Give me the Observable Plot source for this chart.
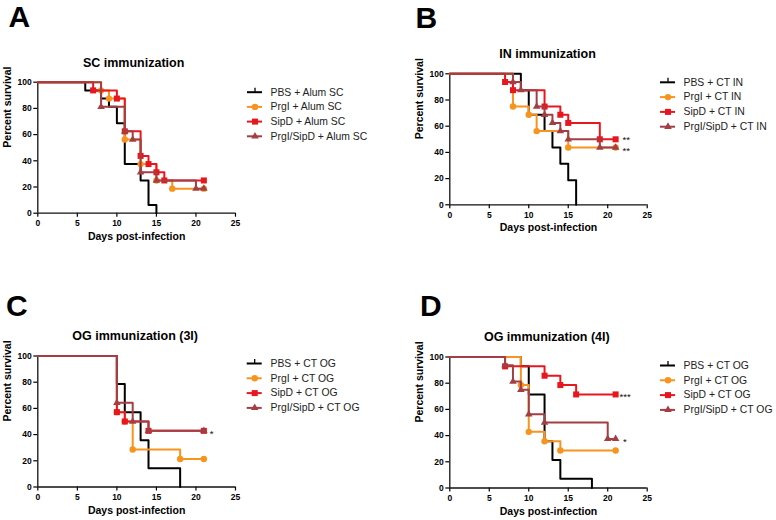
<!DOCTYPE html>
<html><head><meta charset="utf-8">
<script src="https://cdn.jsdelivr.net/npm/d3@7"></script>
<script src="https://cdn.jsdelivr.net/npm/@observablehq/plot@0.6"></script>
<style>
body{margin:0;background:#fff;}
#root{position:relative;width:776px;height:520px;overflow:hidden;background:#fff;}
.panel{position:absolute;}
</style></head><body><div id="root"></div>
<script>
// ---- shared series styling ----
const groupColors = ["#000000", "#F7941D", "#E8161E", "#A33F44"];
const groupSymbols = [null, "circle", "square", "triangle"];
const groupRadius = [0, 3.2, 3.4, 2.8];
const yTicks = [0, 20, 40, 60, 80, 100];
const xTicks = [0, 5, 10, 15, 20, 25];

// ---- Panel A: SC immunization  [day, percent survival] ----
const A_PBS  = [[0,100],[6,93.75],[8,87.5],[9,81.25],[10,68.75],[11,37.5],[13,25],[14,6.25],[15,0]];
const A_PrgI = [[0,100],[8,93.75],[9,87.5],[11,56.25],[13,37.5],[15,25],[17,18.75],[21,18.75]];
const A_SipD = [[0,100],[7,93.75],[10,87.5],[11,62.5],[13,43.75],[14,37.5],[15,31.25],[16,25],[21,25]];
const A_Both = [[0,100],[8,81.25],[11,62.5],[12,56.25],[13,31.25],[15,25],[20,18.75],[21,18.75]];
const A_labels = ["PBS + Alum SC", "PrgI + Alum SC", "SipD + Alum SC", "PrgI/SipD + Alum SC"];

// ---- Panel B: IN immunization ----
const B_PBS  = [[0,100],[9,87.5],[10,68.75],[12,56.25],[13,43.75],[14,31.25],[15,18.75],[16,0]];
const B_PrgI = [[0,100],[8,75],[10,68.75],[11,56.25],[15,43.75],[21,43.75]];
const B_SipD = [[0,100],[7,93.75],[8,87.5],[12,75],[14,68.75],[15,62.5],[19,50],[21,50]];
const B_Both = [[0,100],[8,93.75],[9,87.5],[11,75],[12,68.75],[13,62.5],[14,56.25],[15,50],[19,43.75],[21,43.75]];
const B_labels = ["PBS + CT IN", "PrgI + CT IN", "SipD + CT IN", "PrgI/SipD + CT IN"];

// ---- Panel C: OG immunization (3I) ----
const C_PBS  = [[0,100],[10,78.57],[11,57.14],[13,35.71],[14,14.29],[18,0]];
const C_PrgI = [[0,100],[10,57.14],[11,50],[12,28.57],[18,21.43],[21,21.43]];
const C_SipD = [[0,100],[10,57.14],[11,50],[14,42.86],[21,42.86]];
const C_Both = [[0,100],[10,64.29],[12,50],[14,42.86],[21,42.86]];
const C_labels = ["PBS + CT OG", "PrgI + CT OG", "SipD + CT OG", "PrgI/SipD + CT OG"];

// ---- Panel D: OG immunization (4I) ----
const D_PBS  = [[0,100],[9,92.86],[10,71.43],[12,35.71],[13,21.43],[14,7.14],[18,0]];
const D_PrgI = [[0,100],[9,78.57],[10,42.86],[12,35.71],[14,28.57],[21,28.57]];
const D_SipD = [[0,100],[7,92.86],[12,85.71],[14,78.57],[16,71.43],[21,71.43]];
const D_Both = [[0,100],[7,93.75],[8,81.25],[9,75],[10,56.25],[12,50],[20,37.5],[21,37.5]];
const D_labels = ["PBS + CT OG", "PrgI + CT OG", "SipD + CT OG", "PrgI/SipD + CT OG"];

// significance annotations [day, percent, label]
const B_stars = [[21,50,"**"],[21,43.75,"**"]];
const C_stars = [[21,42.86,"*"]];
const D_stars = [[21,71.43,"***"],[21,37.5,"*"]];

const FONT = "'Liberation Sans', Arial, Helvetica, sans-serif";

function panel(cfg) {
  const {series, labels, title, letter, stars, m, W, H, lay} = cfg;
  const fw = W - m.left - m.right, fh = H - m.top - m.bottom;
  const yFromPx = p => 100 - p * 100 / fh;       // px below frame top -> percent
  const xFromPx = p => 25 + p * 25 / fw;         // px right of frame -> day
  const marks = [];
  marks.push(Plot.axisY({ticks: yTicks, tickSize: 4, tickPadding: 2, label: null, fontWeight: "bold", fontSize: 8.5, strokeWidth: 1.2}));
  marks.push(Plot.axisX({ticks: xTicks, tickSize: 4, tickPadding: 3, label: null, fontWeight: "bold", fontSize: 8.5, strokeWidth: 1.2}));
  marks.push(Plot.ruleX([0], {y1: 0, y2: 100, stroke: "#111", strokeWidth: 1.3}));
  marks.push(Plot.ruleY([0], {x1: 0, x2: 25, stroke: "#111", strokeWidth: 1.3}));
  series.forEach((s, i) => {
    const data = s.map(([day, pct]) => ({day, pct}));
    marks.push(Plot.line(data, {x: "day", y: "pct", curve: "step-after", stroke: groupColors[i], strokeWidth: 2}));
    if (groupSymbols[i]) {
      marks.push(Plot.dot(data.slice(1), {x: "day", y: "pct", symbol: groupSymbols[i], r: groupRadius[i], fill: groupColors[i], stroke: "none"}));
    }
  });
  (stars || []).forEach(([day, pct, t], k) => {
    const sdy = (cfg.starDy || [])[k] ?? 3;
    const sdx = (cfg.starDx || [])[k] ?? 6;
    marks.push(Plot.text([t], {x: () => day, y: () => pct, text: d => d, textAnchor: "start", lineAnchor: "middle", dx: sdx, dy: sdy, fontSize: 9.5, fontWeight: "normal", fill: "#111"}));
  });
  // legend
  labels.forEach((lab, i) => {
    const yv = yFromPx(lay.top + i * lay.step);
    const x1 = xFromPx(lay.x1), x2 = xFromPx(lay.x2), xt = xFromPx(lay.xt);
    const xm = (x1 + x2) / 2;
    marks.push(Plot.ruleY([yv], {x1: x1, x2: x2, stroke: groupColors[i], strokeWidth: 2}));
    if (groupSymbols[i]) {
      marks.push(Plot.dot([0], {x: () => xm, y: () => yv, symbol: groupSymbols[i], r: groupRadius[i], fill: groupColors[i], stroke: "none"}));
    } else {
      marks.push(Plot.ruleX([xm], {y1: yv, y2: yFromPx(lay.top + i * lay.step - 4), stroke: groupColors[i], strokeWidth: 1.3}));
    }
    marks.push(Plot.text([lab], {x: () => xt, y: () => yv, text: d => d, textAnchor: "start", lineAnchor: "middle", fontSize: 10.4, fontWeight: "normal", fill: "#222"}));
  });
  // titles
  marks.push(Plot.text(["Percent survival"], {text: d => d, frameAnchor: "left", rotate: -90, dx: -26.5, lineAnchor: "bottom", fontSize: 10.5, fontWeight: "bold"}));
  marks.push(Plot.text(["Days post-infection"], {text: d => d, frameAnchor: "bottom", dy: 26.5, lineAnchor: "bottom", fontSize: 10.5, fontWeight: "bold"}));
  marks.push(Plot.text([title], {text: d => d, frameAnchor: "top", dx: cfg.titleDx, dy: cfg.titleDy, lineAnchor: "bottom", fontSize: 12.5, fontWeight: "bold"}));
  marks.push(Plot.text([letter], {text: d => d, frameAnchor: "top-left", dx: cfg.letterDx, dy: cfg.letterDy, textAnchor: "start", lineAnchor: "bottom", fontSize: 30, fontWeight: "bold"}));

  return Plot.plot({
    width: W, height: H,
    marginLeft: m.left, marginRight: m.right, marginTop: m.top, marginBottom: m.bottom,
    x: {domain: [0, 25]},
    y: {domain: [0, 100]},
    style: {fontFamily: FONT, fontSize: "8.5px", fontWeight: "bold", color: "#000", background: "#fff", overflow: "visible"},
    marks
  });
}

const configs = [
  {left: 0, top: 0, series: [A_PBS, A_PrgI, A_SipD, A_Both], labels: A_labels, title: "SC immunization", letter: "A",
   m: {left: 37.3, right: 153, top: 81.7, bottom: 47.3}, titleDx: -3, titleDy: -15.7, letterDx: -29.3, letterDy: -54.7,
   lay: {top: 10, step: 14.7, x1: 12, x2: 27, xt: 35}},
  {left: 388, top: 0, series: [B_PBS, B_PrgI, B_SipD, B_Both], labels: B_labels, title: "IN immunization", letter: "B", stars: B_stars,
   starDy: [0.5, 3.5], starDx: [7, 7],
   m: {left: 61.3, right: 129.3, top: 73.3, bottom: 55.7}, titleDx: -1, titleDy: -16.3, letterDx: -34.3, letterDy: -46.3,
   lay: {top: 8.5, step: 14.8, x1: 13.3, x2: 28.3, xt: 36.3}},
  {left: 0, top: 260, series: [C_PBS, C_PrgI, C_SipD, C_Both], labels: C_labels, title: "OG immunization (3I)", letter: "C", stars: C_stars,
   starDy: [3], starDx: [6],
   m: {left: 37.3, right: 153, top: 95.5, bottom: 33.5}, titleDx: -1.5, titleDy: -16.5, letterDx: -31.7, letterDy: -40.5,
   lay: {top: 7.5, step: 14.8, x1: 11.7, x2: 26.7, xt: 35}},
  {left: 388, top: 260, series: [D_PBS, D_PrgI, D_SipD, D_Both], labels: D_labels, title: "OG immunization (4I)", letter: "D", stars: D_stars,
   starDy: [3, 3], starDx: [4, 7.5],
   m: {left: 61.3, right: 129.3, top: 96.5, bottom: 32.5}, titleDx: -1.7, titleDy: -16.5, letterDx: -29.7, letterDy: -41.5,
   lay: {top: 8.5, step: 14.8, x1: 13.3, x2: 28.3, xt: 36.3}}
];

const root = document.getElementById("root");
configs.forEach(c => {
  const div = document.createElement("div");
  div.className = "panel";
  div.style.left = c.left + "px";
  div.style.top = c.top + "px";
  div.appendChild(panel({...c, W: 388, H: 260}));
  root.appendChild(div);
});
</script>
</body></html>
